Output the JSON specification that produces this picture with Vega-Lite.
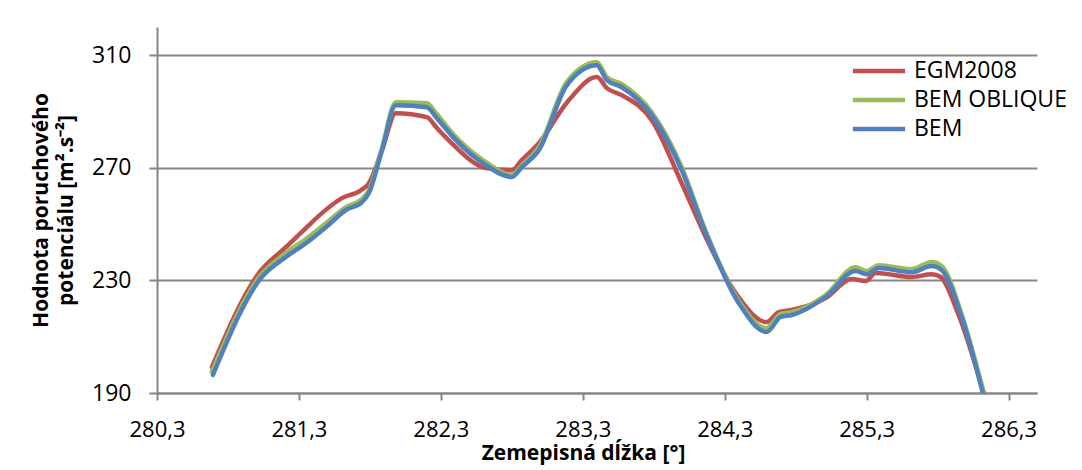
{
  "$schema": "https://vega.github.io/schema/vega-lite/v6.json",
  "width": 880,
  "height": 366,
  "autosize": "none",
  "padding": {"left": 157, "top": 27, "right": 45, "bottom": 77},
  "background": "white",
  "config": {
    "view": {"stroke": null},
    "font": "Open Sans"
  },
  "data": {
    "values": [
      {"series": "EGM2008", "lon": 280.687, "val": 199.2},
      {"series": "EGM2008", "lon": 281.018, "val": 232.6},
      {"series": "EGM2008", "lon": 281.208, "val": 241.8},
      {"series": "EGM2008", "lon": 281.349, "val": 248.6},
      {"series": "EGM2008", "lon": 281.462, "val": 253.9},
      {"series": "EGM2008", "lon": 281.603, "val": 259.2},
      {"series": "EGM2008", "lon": 281.737, "val": 262.0},
      {"series": "EGM2008", "lon": 281.793, "val": 264.5},
      {"series": "EGM2008", "lon": 281.885, "val": 276.2},
      {"series": "EGM2008", "lon": 281.983, "val": 289.4},
      {"series": "EGM2008", "lon": 282.201, "val": 288.0},
      {"series": "EGM2008", "lon": 282.272, "val": 284.1},
      {"series": "EGM2008", "lon": 282.377, "val": 278.7},
      {"series": "EGM2008", "lon": 282.617, "val": 269.9},
      {"series": "EGM2008", "lon": 282.800, "val": 269.1},
      {"series": "EGM2008", "lon": 282.870, "val": 272.7},
      {"series": "EGM2008", "lon": 282.990, "val": 278.7},
      {"series": "EGM2008", "lon": 283.201, "val": 294.0},
      {"series": "EGM2008", "lon": 283.399, "val": 302.2},
      {"series": "EGM2008", "lon": 283.469, "val": 298.3},
      {"series": "EGM2008", "lon": 283.575, "val": 295.8},
      {"series": "EGM2008", "lon": 283.786, "val": 286.9},
      {"series": "EGM2008", "lon": 283.997, "val": 264.5},
      {"series": "EGM2008", "lon": 284.166, "val": 245.4},
      {"series": "EGM2008", "lon": 284.377, "val": 225.5},
      {"series": "EGM2008", "lon": 284.596, "val": 215.2},
      {"series": "EGM2008", "lon": 284.680, "val": 218.7},
      {"series": "EGM2008", "lon": 284.772, "val": 219.5},
      {"series": "EGM2008", "lon": 285.011, "val": 223.7},
      {"series": "EGM2008", "lon": 285.194, "val": 230.5},
      {"series": "EGM2008", "lon": 285.293, "val": 229.8},
      {"series": "EGM2008", "lon": 285.363, "val": 232.6},
      {"series": "EGM2008", "lon": 285.617, "val": 231.2},
      {"series": "EGM2008", "lon": 285.758, "val": 232.2},
      {"series": "EGM2008", "lon": 285.821, "val": 231.2},
      {"series": "EGM2008", "lon": 285.948, "val": 217.7},
      {"series": "EGM2008", "lon": 286.131, "val": 188.9},
      {"series": "BEM OBLIQUE", "lon": 280.687, "val": 197.5},
      {"series": "BEM OBLIQUE", "lon": 281.025, "val": 231.5},
      {"series": "BEM OBLIQUE", "lon": 281.208, "val": 239.7},
      {"series": "BEM OBLIQUE", "lon": 281.349, "val": 244.7},
      {"series": "BEM OBLIQUE", "lon": 281.490, "val": 250.3},
      {"series": "BEM OBLIQUE", "lon": 281.631, "val": 256.0},
      {"series": "BEM OBLIQUE", "lon": 281.744, "val": 258.9},
      {"series": "BEM OBLIQUE", "lon": 281.793, "val": 262.0},
      {"series": "BEM OBLIQUE", "lon": 281.885, "val": 277.0},
      {"series": "BEM OBLIQUE", "lon": 281.983, "val": 293.3},
      {"series": "BEM OBLIQUE", "lon": 282.201, "val": 292.9},
      {"series": "BEM OBLIQUE", "lon": 282.272, "val": 289.0},
      {"series": "BEM OBLIQUE", "lon": 282.406, "val": 280.9},
      {"series": "BEM OBLIQUE", "lon": 282.617, "val": 272.0},
      {"series": "BEM OBLIQUE", "lon": 282.800, "val": 267.4},
      {"series": "BEM OBLIQUE", "lon": 282.870, "val": 270.9},
      {"series": "BEM OBLIQUE", "lon": 282.990, "val": 277.3},
      {"series": "BEM OBLIQUE", "lon": 283.187, "val": 300.4},
      {"series": "BEM OBLIQUE", "lon": 283.399, "val": 307.5},
      {"series": "BEM OBLIQUE", "lon": 283.469, "val": 302.2},
      {"series": "BEM OBLIQUE", "lon": 283.575, "val": 299.7},
      {"series": "BEM OBLIQUE", "lon": 283.786, "val": 289.7},
      {"series": "BEM OBLIQUE", "lon": 283.997, "val": 270.2},
      {"series": "BEM OBLIQUE", "lon": 284.166, "val": 247.5},
      {"series": "BEM OBLIQUE", "lon": 284.399, "val": 222.7},
      {"series": "BEM OBLIQUE", "lon": 284.596, "val": 213.1},
      {"series": "BEM OBLIQUE", "lon": 284.694, "val": 218.1},
      {"series": "BEM OBLIQUE", "lon": 284.772, "val": 218.7},
      {"series": "BEM OBLIQUE", "lon": 285.011, "val": 224.8},
      {"series": "BEM OBLIQUE", "lon": 285.222, "val": 234.7},
      {"series": "BEM OBLIQUE", "lon": 285.300, "val": 233.3},
      {"series": "BEM OBLIQUE", "lon": 285.385, "val": 235.4},
      {"series": "BEM OBLIQUE", "lon": 285.617, "val": 234.0},
      {"series": "BEM OBLIQUE", "lon": 285.758, "val": 236.5},
      {"series": "BEM OBLIQUE", "lon": 285.828, "val": 235.1},
      {"series": "BEM OBLIQUE", "lon": 285.969, "val": 218.0},
      {"series": "BEM OBLIQUE", "lon": 286.131, "val": 188.9},
      {"series": "BEM", "lon": 280.694, "val": 196.4},
      {"series": "BEM", "lon": 281.032, "val": 230.8},
      {"series": "BEM", "lon": 281.208, "val": 238.3},
      {"series": "BEM", "lon": 281.349, "val": 243.2},
      {"series": "BEM", "lon": 281.490, "val": 248.9},
      {"series": "BEM", "lon": 281.631, "val": 255.0},
      {"series": "BEM", "lon": 281.744, "val": 257.8},
      {"series": "BEM", "lon": 281.793, "val": 261.0},
      {"series": "BEM", "lon": 281.885, "val": 276.2},
      {"series": "BEM", "lon": 281.983, "val": 292.2},
      {"series": "BEM", "lon": 282.201, "val": 291.5},
      {"series": "BEM", "lon": 282.272, "val": 287.6},
      {"series": "BEM", "lon": 282.406, "val": 279.8},
      {"series": "BEM", "lon": 282.617, "val": 270.9},
      {"series": "BEM", "lon": 282.800, "val": 266.7},
      {"series": "BEM", "lon": 282.870, "val": 270.2},
      {"series": "BEM", "lon": 282.990, "val": 276.2},
      {"series": "BEM", "lon": 283.187, "val": 299.3},
      {"series": "BEM", "lon": 283.399, "val": 306.4},
      {"series": "BEM", "lon": 283.469, "val": 301.1},
      {"series": "BEM", "lon": 283.575, "val": 298.6},
      {"series": "BEM", "lon": 283.786, "val": 288.7},
      {"series": "BEM", "lon": 283.997, "val": 269.1},
      {"series": "BEM", "lon": 284.166, "val": 246.8},
      {"series": "BEM", "lon": 284.399, "val": 221.9},
      {"series": "BEM", "lon": 284.596, "val": 211.7},
      {"series": "BEM", "lon": 284.694, "val": 217.0},
      {"series": "BEM", "lon": 284.772, "val": 217.7},
      {"series": "BEM", "lon": 285.011, "val": 224.1},
      {"series": "BEM", "lon": 285.222, "val": 233.3},
      {"series": "BEM", "lon": 285.300, "val": 232.2},
      {"series": "BEM", "lon": 285.385, "val": 234.4},
      {"series": "BEM", "lon": 285.617, "val": 232.9},
      {"series": "BEM", "lon": 285.758, "val": 235.1},
      {"series": "BEM", "lon": 285.828, "val": 233.7},
      {"series": "BEM", "lon": 285.969, "val": 217.0},
      {"series": "BEM", "lon": 286.124, "val": 188.9}
    ]
  },
  "mark": {"type": "line", "strokeWidth": 4.5, "interpolate": "monotone", "clip": true, "strokeCap": "round", "strokeJoin": "round"},
  "encoding": {
    "x": {
      "field": "lon",
      "type": "quantitative",
      "scale": {"domain": [280.3, 286.5], "nice": false, "zero": false},
      "axis": {
        "values": [280.3, 281.3, 282.3, 283.3, 284.3, 285.3, 286.3],
        "labelExpr": "replace(format(datum.value, '.1f'), '.', ',')",
        "grid": false,
        "domainColor": "#868686",
        "domainWidth": 2,
        "tickColor": "#868686",
        "tickWidth": 2,
        "tickSize": 7,
        "labelFontSize": 22,
        "labelColor": "#000000",
        "labelPadding": 19,
        "labelFlush": false,
        "title": "Zemepisná dĺžka  [°]",
        "titleFontSize": 21,
        "titleFontWeight": "bold",
        "titleColor": "#000000",
        "titlePadding": 2,
        "titleX": 426,
        "titleAnchor": "middle"
      }
    },
    "y": {
      "field": "val",
      "type": "quantitative",
      "scale": {"domain": [190, 320], "nice": false, "zero": false},
      "axis": {
        "values": [190, 230, 270, 310],
        "grid": true,
        "gridColor": "#868686",
        "gridWidth": 2,
        "domainColor": "#868686",
        "domainWidth": 2,
        "tickColor": "#868686",
        "tickWidth": 2,
        "tickSize": 8,
        "labelFontSize": 23,
        "labelColor": "#000000",
        "labelPadding": 18,
        "title": ["Hodnota poruchového", "potenciálu  [m².s⁻²]"],
        "titleFontSize": 21,
        "titleFontWeight": "bold",
        "titleColor": "#000000",
        "titleLineHeight": 25,
        "titlePadding": 15
      }
    },
    "color": {
      "field": "series",
      "type": "nominal",
      "sort": ["EGM2008", "BEM OBLIQUE", "BEM"],
      "scale": {"domain": ["EGM2008", "BEM OBLIQUE", "BEM"], "range": ["#C0504D", "#9BBB59", "#4F81BD"]},
      "legend": {
        "title": null,
        "orient": "none",
        "legendX": 705,
        "legendY": 27,
        "symbolType": "M-1.8,0H1.8",
        "symbolSize": 841,
        "symbolStrokeWidth": 4.5,
        "labelFontSize": 23,
        "labelColor": "#000000",
        "labelOffset": 18,
        "rowPadding": 0
      }
    }
  }
}
